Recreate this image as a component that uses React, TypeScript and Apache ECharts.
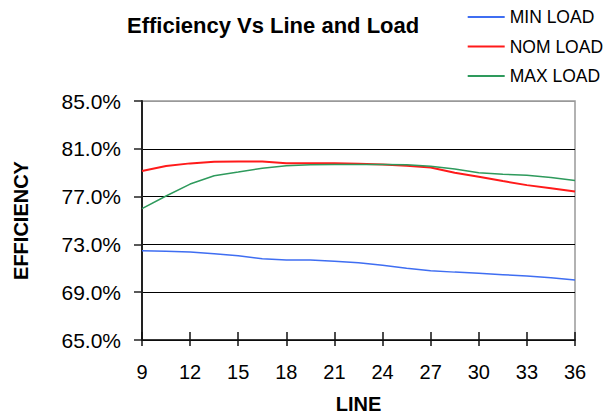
import React, { useEffect, useRef } from "react";
import * as echarts from "echarts";

const lineValues = [9, 10.5, 12, 13.5, 15, 16.5, 18, 19.5, 21, 22.5, 24, 25.5, 27, 28.5, 30, 31.5, 33, 34.5, 36];
const minLoad = [72.47, 72.42, 72.36, 72.22, 72.05, 71.8, 71.69, 71.69, 71.6, 71.47, 71.25, 71.0, 70.8, 70.68, 70.58, 70.47, 70.36, 70.2, 70.03];
const nomLoad = [79.14, 79.56, 79.78, 79.92, 79.93, 79.93, 79.8, 79.79, 79.79, 79.74, 79.68, 79.58, 79.43, 79.0, 78.67, 78.3, 77.96, 77.7, 77.42];
const maxLoad = [75.99, 77.05, 78.05, 78.75, 79.05, 79.37, 79.58, 79.66, 79.68, 79.68, 79.68, 79.66, 79.54, 79.3, 79.0, 78.88, 78.78, 78.6, 78.35];
const seriesNames = ["MIN LOAD", "NOM LOAD", "MAX LOAD"];
const yTicks = [65, 69, 73, 77, 81, 85];
const xTicks = [9, 12, 15, 18, 21, 24, 27, 30, 33, 36];

const FONT = "'Liberation Sans', Arial, sans-serif";

export default function App() {
  const ref = useRef<HTMLDivElement>(null);
  useEffect(() => {
    if (!ref.current) return;
    const chart = echarts.init(ref.current, null, { renderer: "svg" });
    const pairs = (ys: number[]) => lineValues.map((x, i) => [x, ys[i]]);
    const colors = ["#3f6ef2", "#ff1a1a", "#2e9a5c"];
    const widths = [1.5, 2, 1.5];
    const data = [minLoad, nomLoad, maxLoad];
    chart.setOption({
      animation: false,
      backgroundColor: "#ffffff",
      textStyle: { fontFamily: FONT },
      title: {
        text: "Efficiency Vs Line and Load",
        left: 122,
        top: 9,
        textStyle: { fontFamily: FONT, fontSize: 22, fontWeight: "bold", color: "#000" },
      },
      legend: {
        orient: "vertical",
        left: 462.7,
        top: 3,
        itemWidth: 37,
        itemHeight: 2,
        itemGap: 11.5,
        icon: "rect",
        data: seriesNames,
        textStyle: { fontFamily: FONT, fontSize: 17.5, color: "#000", padding: [0, 0, 0, 0] },
      },
      grid: {
        left: 142,
        right: 31,
        top: 101,
        bottom: 79,
        show: true,
        borderColor: "#999",
        borderWidth: 1.5,
        containLabel: false,
      },
      xAxis: [
        {
          type: "value",
          min: 9,
          max: 36,
          interval: 3,
          name: "LINE",
          nameLocation: "middle",
          nameGap: 54,
          nameTextStyle: { fontFamily: FONT, fontSize: 20, fontWeight: "bold", color: "#000" },
          axisLine: { show: true, onZero: false, lineStyle: { color: "#111", width: 1.5 } },
          axisTick: { show: true, inside: false, length: 6, lineStyle: { color: "#111", width: 1.5 } },
          axisLabel: {
            margin: 22,
            fontFamily: FONT,
            fontSize: 20,
            color: "#000",
            customValues: xTicks,
          },
          splitLine: { show: false },
        },
        {
          type: "value",
          min: 9,
          max: 36,
          interval: 3,
          position: "bottom",
          axisLine: { show: false },
          axisTick: { show: true, inside: true, length: 8, lineStyle: { color: "#111", width: 1.5 } },
          axisLabel: { show: false },
          splitLine: { show: false },
        },
      ],
      yAxis: {
        type: "value",
        min: 65,
        max: 85,
        interval: 4,
        name: "EFFICIENCY",
        nameLocation: "middle",
        nameRotate: 90,
        nameGap: 111,
        nameTextStyle: { fontFamily: FONT, fontSize: 20, fontWeight: "bold", color: "#000" },
        axisLine: { show: true, onZero: false, lineStyle: { color: "#222", width: 2 } },
        axisTick: { show: true, inside: false, length: 8, lineStyle: { color: "#222", width: 1.5 }, customValues: yTicks },
        axisLabel: {
          margin: 21,
          fontFamily: FONT,
          fontSize: 21,
          color: "#000",
          formatter: (v: number) => v.toFixed(1) + "%",
          customValues: yTicks,
        },
        splitLine: {
          show: true,
          lineStyle: { color: ["#000", "#000", "#000", "#000", "#000", "#999"], width: 1.2 },
        },
      },
      series: seriesNames.map((name, i) => ({
        name,
        type: "line",
        xAxisIndex: 0,
        data: pairs(data[i]),
        showSymbol: false,
        symbol: "none",
        smooth: false,
        lineStyle: { color: colors[i], width: widths[i] },
        itemStyle: { color: colors[i] },
      })),
    });
    return () => chart.dispose();
  }, []);
  return <div ref={ref} style={{ position: "fixed", left: 0, top: 0, width: 606, height: 419 }} />;
}
